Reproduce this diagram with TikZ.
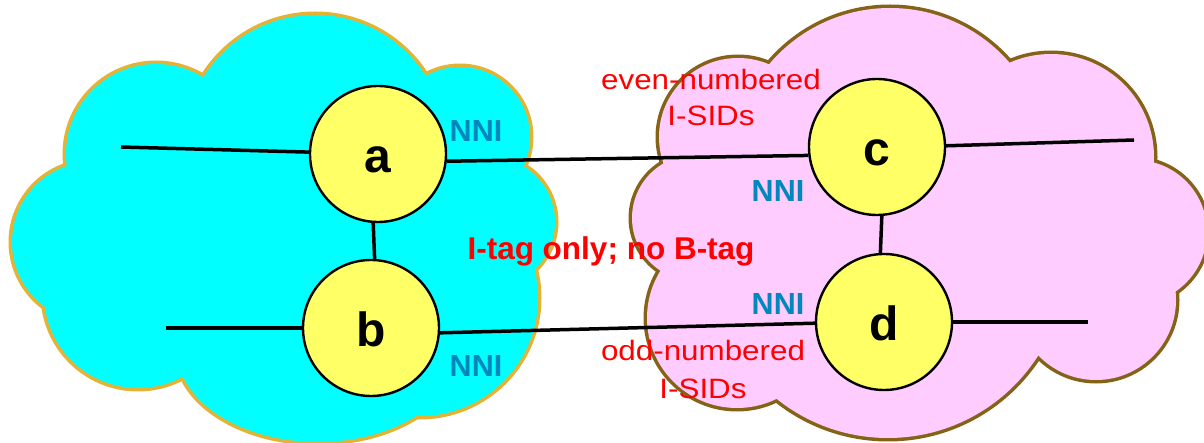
\documentclass[tikz,border=0pt]{standalone}
\usepackage{fontspec}
\setmainfont{Liberation Sans}
\newfontfamily\widefont[FakeStretch=1.12]{Liberation Sans}
\definecolor{cyanfill}{HTML}{00FFFF}
\definecolor{cyanline}{RGB}{228,178,52}
\definecolor{pinkfill}{HTML}{FFCCFF}
\definecolor{pinkline}{RGB}{134,98,22}
\definecolor{nodefill}{HTML}{FFFF66}
\definecolor{nniblue}{RGB}{0,135,190}
\newcommand\cloudL[1]{%
  \path[#1] (315,146) circle[radius=131];
  \path[#1] (156,154) circle[radius=90];
  \path[#1] (460,137) circle[radius=70];
  \path[#1] (490,222) circle[radius=65];
  \path[#1] (420,298) circle[radius=118];
  \path[#1] (318,350) ellipse[x radius=141, y radius=92];
  \path[#1] (138,294) circle[radius=94];
  \path[#1] (92,242) circle[radius=80];
}
\newcommand\cloudR[1]{%
  \path[#1] (890,166) circle[radius=158];
  \path[#1] (1051,157) circle[radius=103];
  \path[#1] (1135,232) circle[radius=72];
  \path[#1] (1096,300) circle[radius=80];
  \path[#1] (888,260) circle[radius=178];
  \path[#1] (737,318) circle[radius=90];
  \path[#1] (695,218) circle[radius=63];
  \path[#1] (738,137) circle[radius=79];
}
\begin{document}
\begin{tikzpicture}[x=1pt,y=-1pt,
  netnode/.style={circle, draw=black, line width=2.4pt, fill=nodefill,
    minimum size=136pt, inner sep=0pt, text height=37pt, text depth=0pt,
    font=\fontsize{48}{48}\selectfont\bfseries},
  link/.style={draw=black, line width=3.5pt},
  nnilabel/.style={anchor=base, inner sep=0pt, text=nniblue,
    font=\fontsize{30.5}{30.5}\selectfont\bfseries},
  isidlabel/.style={anchor=base, inner sep=0pt, text=red,
    font=\widefont\fontsize{28}{28}\selectfont},
  taglabel/.style={anchor=base, inner sep=0pt, text=red,
    font=\fontsize{31.5}{31.5}\selectfont\bfseries}
]
\useasboundingbox (0,0) rectangle (1204,443);
% left (cyan) cloud
\cloudL{draw=cyanline, line width=7pt}
\cloudL{fill=cyanfill}
\fill[cyanfill] (210,86) -- (418,82) -- (505,175) -- (522,270) -- (415,400) -- (192,366) -- (60,302) -- (83,175) -- cycle;
% right (pink) cloud
\cloudR{draw=pinkline, line width=7pt}
\cloudR{fill=pinkfill}
\fill[pinkfill] (778,74) -- (1002,80) -- (1137,168) -- (1160,298) -- (1022,360) -- (780,390) -- (665,262) -- (684,168) -- cycle;
% nodes
\node[netnode] (a) at (378,154) {a};
\node[netnode] (b) at (371,328) {b};
\node[netnode] (c) at (877,147) {c};
\node[netnode] (d) at (884,322) {d};
\coordinate (la) at (121,147);
\coordinate (lb) at (166,328);
\coordinate (cr) at (1134,140);
\coordinate (dr) at (1088,322);
% connectors
\draw[link] (la) -- (a);
\draw[link] (lb) -- (b);
\draw[link] (a.-6) -- (c.187);
\draw[link] (b.-4) -- (d.181);
\draw[link] (c.1) -- (cr);
\draw[link] (d) -- (dr);
\draw[link] (a.-94) -- (b.87);
\draw[link] (c.-86) -- (d.93);
% labels
\node[nnilabel] (nniA) at (476,142) {NNI};
\node[nnilabel] (nniB) at (476,376) {NNI};
\node[nnilabel] (nniC) at (778,201.7) {NNI};
\node[nnilabel] (nniD) at (778,315) {NNI};
\node[isidlabel] (even1) at (711,89.3) {even-numbered};
\node[isidlabel] (even2) at (711,126) {I-SIDs};
\node[isidlabel] (odd1) at (703,360) {odd-numbered};
\node[isidlabel] (odd2) at (703,398) {I-SIDs};
\node[taglabel] (itag) at (611,260) {I-tag only; no B-tag};
\end{tikzpicture}
\end{document}
